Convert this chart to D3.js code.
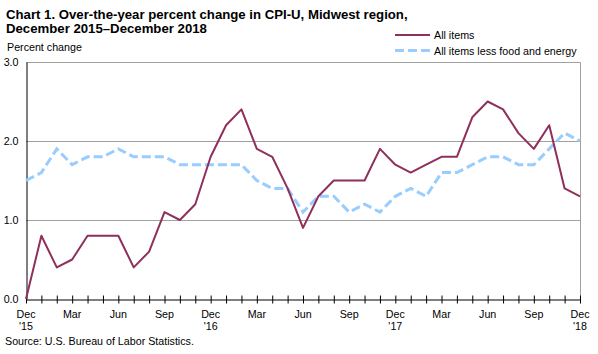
<!DOCTYPE html>
<html>
<head>
<meta charset="utf-8">
<script src="https://cdn.jsdelivr.net/npm/d3@7"></script>
<style>
  body { margin: 0; background: #fff; }
  svg { display: block; font-family: "Liberation Sans", Arial, sans-serif; }
</style>
</head>
<body>
<svg id="vis"></svg>
<script>
// picture size (exact)
const width = 598;
const height = 354;

// monthly values, Dec 2015 .. Dec 2018
const months = d3.range(37);
const allItems = [0.0, 0.8, 0.4, 0.5, 0.8, 0.8, 0.8, 0.4, 0.6, 1.1, 1.0, 1.2,
    1.8, 2.2, 2.4, 1.9, 1.8, 1.4, 0.9, 1.3, 1.5, 1.5, 1.5, 1.9,
    1.7, 1.6, 1.7, 1.8, 1.8, 2.3, 2.5, 2.4, 2.1, 1.9, 2.2, 1.4, 1.3];
const lessFoodEnergy = [1.5, 1.6, 1.9, 1.7, 1.8, 1.8, 1.9, 1.8, 1.8, 1.8, 1.7, 1.7,
    1.7, 1.7, 1.7, 1.5, 1.4, 1.4, 1.1, 1.3, 1.3, 1.1, 1.2, 1.1,
    1.3, 1.4, 1.3, 1.6, 1.6, 1.7, 1.8, 1.8, 1.7, 1.7, 1.9, 2.1, 2.0];
const monthNames = ["Dec", "Mar", "Jun", "Sep"];
const yearLabels = ["'15", "'16", "'17", "'18"];
const yTicks = [0.0, 1.0, 2.0, 3.0];
const seriesNames = ["All items", "All items less food and energy"];

const plot = {left: 26, right: 580, top: 62, bottom: 299};
const fs = 10.7;

const xScale = d3.scaleLinear().domain([0, 36]).range([plot.left, plot.right]);
const yScale = d3.scaleLinear().domain([0, 3]).range([plot.bottom, plot.top]);

const colors = {all: "#8f2f5c", core: "#99ccff"};

const svg = d3.select("#vis").attr("width", width).attr("height", height);

// title
const title = svg.append("text")
    .attr("font-size", 13.2).attr("font-weight", "bold").attr("fill", "#000");
title.append("tspan").attr("x", 6).attr("y", 19)
    .text("Chart 1. Over-the-year percent change in CPI-U, Midwest region,");
title.append("tspan").attr("x", 6).attr("y", 32.5)
    .text("December 2015\u2013December 2018");

svg.append("text").attr("x", 7).attr("y", 50.5).attr("font-size", fs)
    .text("Percent change");

// plot frame (right and top sides are gray)
svg.append("path")
    .attr("d", `M${plot.left},${plot.top + 0.5}H${plot.right + 0.5}V${plot.bottom}`)
    .attr("fill", "none").attr("stroke", "#a0a0a0").attr("stroke-width", 1);

// gridlines
svg.append("g").selectAll("line").data(yTicks.filter(d => d > 0)).join("line")
    .attr("x1", plot.left).attr("x2", plot.right)
    .attr("y1", d => Math.round(yScale(d)) + 0.5).attr("y2", d => Math.round(yScale(d)) + 0.5)
    .attr("stroke", "#a0a0a0").attr("stroke-width", 1);

// y axis
const yAxis = d3.axisLeft(yScale).tickValues(yTicks).tickSize(0).tickPadding(8)
    .tickFormat(d3.format(".1f"));
const gy = svg.append("g").attr("transform", `translate(${plot.left + 0.5},0)`).call(yAxis);
gy.select(".domain").attr("stroke", "#000");
gy.selectAll("text").attr("font-size", fs).attr("fill", "#000")
    .attr("font-family", "Liberation Sans, Arial, sans-serif");

// x axis: a tick for each month, crossing the axis line
const xAxis = d3.axisBottom(xScale).tickValues(months).tickSize(4).tickSizeOuter(0)
    .tickFormat("");
const gx = svg.append("g").attr("transform", `translate(0,${plot.bottom + 0.5})`).call(xAxis);
gx.select(".domain").attr("stroke", "#000");
gx.selectAll(".tick line").attr("y1", -4).attr("y2", 4).attr("stroke", "#000");

const labelMonths = months.filter(m => m % 3 === 0);
svg.append("g").selectAll("text").data(labelMonths).join("text")
    .attr("x", d => xScale(d)).attr("y", 318)
    .attr("text-anchor", "middle").attr("font-size", fs)
    .text(d => monthNames[(d / 3) % 4]);
svg.append("g").selectAll("text").data(labelMonths.filter(m => m % 12 === 0)).join("text")
    .attr("x", d => xScale(d)).attr("y", 330)
    .attr("text-anchor", "middle").attr("font-size", fs)
    .text(d => yearLabels[d / 12]);

// lines
const line = d3.line().x((d, i) => xScale(i)).y(d => yScale(d));
svg.append("path").datum(lessFoodEnergy).attr("d", line)
    .attr("fill", "none").attr("stroke", colors.core).attr("stroke-width", 3)
    .attr("stroke-dasharray", "9,4");
svg.append("path").datum(allItems).attr("d", line)
    .attr("fill", "none").attr("stroke", colors.all).attr("stroke-width", 2)
    .attr("stroke-linejoin", "round");

// legend
const legend = svg.append("g");
const legendRows = [
    {name: seriesNames[0], color: colors.all, width: 2, dash: null, y: 35},
    {name: seriesNames[1], color: colors.core, width: 3, dash: "9,4", y: 50.5}
];
legendRows.forEach(r => {
    legend.append("line").attr("x1", 395).attr("x2", 430).attr("y1", r.y).attr("y2", r.y)
        .attr("stroke", r.color).attr("stroke-width", r.width)
        .attr("stroke-dasharray", r.dash);
    legend.append("text").attr("x", 434).attr("y", r.y + 4).attr("font-size", fs)
        .text(r.name);
});

// source
svg.append("text").attr("x", 5).attr("y", 345).attr("font-size", fs)
    .text("Source: U.S. Bureau of Labor Statistics.");
</script>
</body>
</html>
